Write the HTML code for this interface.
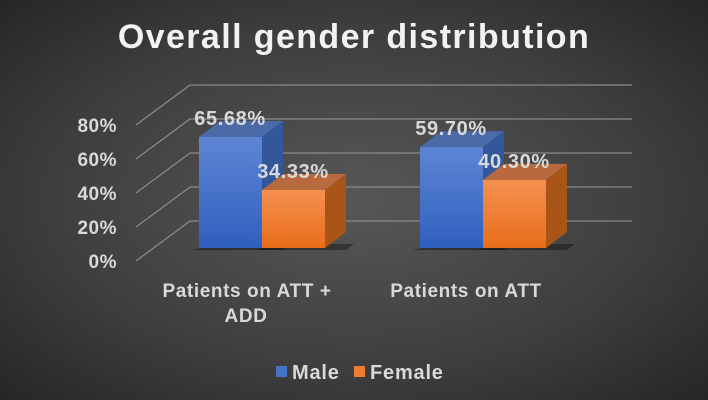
<!DOCTYPE html>
<html><head><meta charset="utf-8"><style>
body{margin:0}
#c{width:708px;height:400px;position:relative;overflow:hidden;background:radial-gradient(ellipse at 50% 50%,#575757 0%,#3e3e3e 60%,#262626 100%);font-family:"Liberation Sans",sans-serif;font-weight:bold;color:#d9d9d9}
text{font-family:"Liberation Sans",sans-serif;font-weight:bold;fill:#d9d9d9}
</style></head><body>
<div id="c">
<svg id="s" width="708" height="400">
<defs>
<linearGradient id="gb" x1="0" y1="0" x2="0" y2="1"><stop offset="0" stop-color="#5f86d4"/><stop offset="1" stop-color="#2f5fbf"/></linearGradient>
<linearGradient id="go" x1="0" y1="0" x2="0" y2="1"><stop offset="0" stop-color="#f59150"/><stop offset="1" stop-color="#e86d1a"/></linearGradient>
</defs>
<text x="354" y="48" text-anchor="middle" font-size="34" style="fill:#f2f2f2;letter-spacing:1.4px">Overall gender distribution</text>
<g id="grid"></g><g id="bars"></g><g id="labels"></g>
<text x="247" y="297" text-anchor="middle" font-size="19" style="letter-spacing:0.6px">Patients on ATT +</text>
<text x="246" y="322" text-anchor="middle" font-size="19" style="letter-spacing:0.6px">ADD</text>
<text x="466" y="297" text-anchor="middle" font-size="19" style="letter-spacing:0.6px">Patients on ATT</text>
<g>
<rect x="276" y="366" width="11" height="11" fill="#4472c4"/>
<text x="292" y="379" font-size="20" style="letter-spacing:0.8px">Male</text>
<rect x="354" y="366" width="11" height="11" fill="#ed7d31"/>
<text x="370" y="379" font-size="20" style="letter-spacing:0.8px">Female</text>
</g>
</svg>
</div>
<script>
const categories=["Patients on ATT + ADD","Patients on ATT"];
const male=[65.68,59.70];
const female=[34.33,40.30];
const ticks=[0,20,40,60,80];
const NS="http://www.w3.org/2000/svg";
function mk(t,a,p){const e=document.createElementNS(NS,t);for(const k in a)e.setAttribute(k,a[k]);p.appendChild(e);return e;}
const backY=v=>221-v*1.7, frontY=v=>261-v*1.7;
const grid=document.getElementById('grid');
ticks.forEach(t=>{
 const l=mk('polyline',{points:`136,${frontY(t)} 190,${backY(t)} 632,${backY(t)}`,fill:'none',stroke:'#8a8a8a','stroke-width':1.3},grid);
 
 
 const tx=mk('text',{x:117,y:frontY(t)+7,'text-anchor':'end','font-size':19,style:'letter-spacing:0.5px'},grid);
 tx.textContent=t+'%';
 
 
});
const bars=document.getElementById('bars'),labs=document.getElementById('labels');
const base=248,sc=1.69,dx=21,dy=16,w=63;
const groupX=[199,420];
function bar(x,v,face,top,side,name){
 const g=mk('g',{},bars);
 
 
 const y=base-v*sc;
 mk('polygon',{points:`${x-8},${base+2} ${x+w+dx},${base+2} ${x+w+dx+8},${base-4} ${x+dx},${base-4}`,fill:'rgba(0,0,0,0.35)'},g);
 mk('polygon',{points:`${x+w},${y} ${x+w+dx},${y-dy} ${x+w+dx},${base-dy} ${x+w},${base}`,fill:side},g);
 mk('polygon',{points:`${x},${y} ${x+dx},${y-dy} ${x+w+dx},${y-dy} ${x+w},${y}`,fill:top},g);
 mk('rect',{x:x,y:y,width:w,height:v*sc,fill:face},g);
}
categories.forEach((c,i)=>{
 const x=groupX[i];
 bar(x,male[i],'url(#gb)','#4a6aa8','#34579c','bar-male-'+i);
 bar(x+w,female[i],'url(#go)','#b86a3e','#a95518','bar-female-'+i);
});
categories.forEach((c,i)=>{
 const x=groupX[i];
 [[male[i],x],[female[i],x+w]].forEach(([v,bx],j)=>{
  const t=mk('text',{x:bx+31,y:base-v*sc-12,'text-anchor':'middle','font-size':20,style:'letter-spacing:0.6px'},labs);
  t.textContent=v.toFixed(2)+'%';
  
  
 });
});
</script>
</body></html>
